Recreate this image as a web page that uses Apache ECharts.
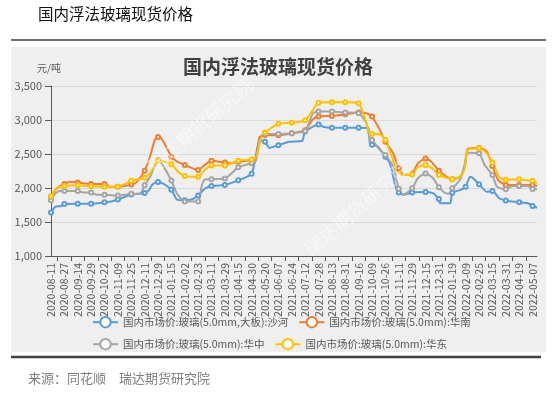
<!DOCTYPE html>
<html>
<head>
<meta charset="utf-8">
<script src="https://cdn.jsdelivr.net/npm/echarts@6/dist/echarts.min.js"></script>
<style>
html,body{margin:0;padding:0;background:#fff;}
#chart{width:558px;height:394px;}
</style>
</head>
<body>
<div id="chart"></div>
<script>
// Tick labels (every 12th trading day)
const dateLabels = ['2020-08-11','2020-08-27','2020-09-14','2020-09-29','2020-10-22','2020-11-09','2020-11-25','2020-12-11','2020-12-29',
  '2021-01-15','2021-02-02','2021-02-23','2021-03-11','2021-03-29','2021-04-15','2021-04-30','2021-05-20','2021-06-07','2021-06-24',
  '2021-07-12','2021-07-28','2021-08-13','2021-08-31','2021-09-16','2021-10-09','2021-10-26','2021-11-11','2021-11-29','2021-12-15',
  '2021-12-31','2022-01-19','2022-02-09','2022-02-25','2022-03-15','2022-03-31','2022-04-19','2022-05-07'];
const dayCount = 437;            // trading days on the axis
const labelStep = 12;            // trading days between labels

const seriesNames = ['国内市场价:玻璃(5.0mm,大板):沙河','国内市场价:玻璃(5.0mm):华南','国内市场价:玻璃(5.0mm):华中','国内市场价:玻璃(5.0mm):华东'];

// [trading-day index, 元/吨]
const shahe = [[0,1640],[2,1690],[4,1725],[9,1735],[12,1765],[24,1770],[36,1770],[48,1790],[54,1800],[60,1830],[66,1870],[72,1905],[84,1925],[88,1970],[91,2050],[96,2090],[101,2060],[108,1975],[113,1830],[120,1820],[126,1830],[132,1890],[138,1990],[144,2030],[156,2045],[162,2075],[168,2115],[174,2150],[180,2210],[183,2400],[187,2700],[192,2680],[196,2590],[204,2630],[214,2680],[225,2690],[226,2710],[228,2830],[240,2935],[244,2900],[252,2885],[264,2885],[276,2885],[285,2880],[286,2660],[288,2635],[293,2610],[300,2460],[304,2360],[310,1970],[312,1935],[316,1900],[324,1935],[336,1940],[343,1920],[346,1875],[348,1840],[349,1775],[358,1775],[360,1930],[367,1970],[372,2020],[376,2165],[379,2140],[384,2055],[391,1945],[396,1955],[402,1850],[408,1815],[414,1800],[420,1790],[428,1775],[432,1735],[436,1710]];
const huanan = [[0,1870],[4,1970],[8,2030],[12,2060],[17,2093],[24,2080],[36,2060],[48,2060],[53,2020],[60,2020],[72,2050],[77,2090],[84,2255],[89,2470],[93,2700],[96,2750],[99,2730],[104,2585],[108,2460],[113,2390],[120,2340],[132,2265],[138,2340],[144,2400],[156,2375],[162,2365],[168,2385],[180,2410],[184,2435],[187,2750],[192,2780],[204,2775],[216,2805],[228,2850],[235,3010],[240,3050],[252,3060],[264,3085],[276,3110],[283,3100],[288,3050],[295,2855],[300,2680],[307,2510],[312,2290],[317,2190],[324,2215],[329,2360],[336,2435],[341,2390],[348,2255],[355,2165],[360,2130],[367,2165],[371,2300],[374,2580],[384,2590],[391,2535],[396,2325],[401,2120],[408,2045],[420,2045],[432,2045],[436,2030]];
const huazhong = [[0,1815],[4,1920],[8,1955],[12,1955],[24,1955],[29,1935],[36,1935],[41,1900],[48,1900],[60,1890],[72,1915],[80,1920],[84,2040],[89,2170],[93,2330],[96,2410],[101,2315],[108,2110],[113,1920],[120,1800],[132,1800],[135,2020],[138,2125],[144,2130],[156,2140],[162,2215],[168,2305],[180,2365],[184,2410],[187,2705],[192,2795],[204,2795],[216,2805],[228,2840],[235,3100],[240,3125],[252,3125],[264,3110],[276,3100],[283,2950],[286,2715],[288,2705],[295,2560],[300,2485],[307,2315],[310,2120],[312,1990],[316,1900],[324,1995],[329,2140],[336,2215],[343,2140],[348,2010],[355,1920],[358,1920],[360,1995],[367,2120],[371,2340],[374,2520],[384,2510],[389,2340],[396,2190],[400,2020],[408,1980],[414,2030],[420,2030],[428,2030],[432,1985],[436,1980]];
const huadong = [[0,1880],[5,1995],[12,2030],[24,2040],[36,2025],[48,2020],[60,2020],[72,2105],[84,2150],[89,2220],[93,2330],[96,2400],[102,2385],[108,2350],[114,2240],[120,2175],[132,2165],[138,2265],[144,2330],[156,2330],[168,2400],[180,2420],[184,2450],[188,2700],[192,2815],[204,2945],[216,2960],[228,2995],[235,3150],[240,3255],[252,3260],[264,3260],[276,3245],[280,3100],[286,2805],[288,2795],[295,2790],[300,2705],[306,2450],[310,2265],[313,2210],[317,2190],[324,2200],[329,2305],[336,2340],[343,2275],[348,2190],[355,2150],[360,2130],[367,2165],[371,2275],[374,2560],[384,2585],[391,2510],[396,2375],[402,2165],[408,2120],[420,2130],[428,2110],[432,2105],[436,2070]];

const seriesData = [shahe, huanan, huazhong, huadong];
const colors = ['#5b9bd5','#ed7d31','#a5a5a5','#ffc000'];

const categories = [];
for (let i = 0; i < dayCount; i++) {
  categories.push(i % labelStep === 0 ? dateLabels[i / labelStep] : '');
}

const FONT = '"Noto Sans CJK SC", "Noto Sans", sans-serif';
const chart = echarts.init(document.getElementById('chart'), null, {renderer: 'canvas'});

const legendCommon = {
  orient: 'horizontal', left: 92, itemWidth: 25, itemHeight: 13, itemGap: 10,
  padding: 0, textStyle: {color: '#595959', fontSize: 10.5, fontFamily: FONT}
};

chart.setOption({
  animation: false,
  backgroundColor: '#ffffff',
  textStyle: {fontFamily: FONT},
  color: colors,
  grid: {left: 51, right: 21, top: 86, bottom: 138, containLabel: false},
  legend: [
    Object.assign({}, legendCommon, {top: 316, data: [seriesNames[0], seriesNames[1]]}),
    Object.assign({}, legendCommon, {top: 338, data: [seriesNames[2], seriesNames[3]]})
  ],
  xAxis: {
    type: 'category',
    data: categories,
    boundaryGap: false,
    axisLine: {lineStyle: {color: '#595959', width: 1}},
    axisTick: {show: true, length: 5, interval: function (i) { return i % labelStep === labelStep / 2; }, lineStyle: {color: '#595959'}},
    axisLabel: {interval: labelStep - 1, rotate: 90, margin: 7, color: '#595959', fontSize: 10.5, fontFamily: FONT},
    splitLine: {show: false}
  },
  yAxis: {
    type: 'value',
    min: 1000, max: 3500, interval: 500,
    axisLine: {show: true, lineStyle: {color: '#595959', width: 1}},
    axisTick: {show: true, length: 6, lineStyle: {color: '#595959'}},
    axisLabel: {margin: 9, color: '#595959', fontSize: 11, fontFamily: FONT,
      formatter: function (v) { return v.toLocaleString('en-US'); }},
    splitLine: {lineStyle: {color: '#d9d9d9', width: 1}}
  },
  series: seriesNames.map(function (name, i) {
    return {
      name: name, type: 'line', data: seriesData[i],
      symbol: 'emptyCircle', symbolSize: 4, showAllSymbol: 'auto',
      smooth: 0.2,
      lineStyle: {width: 2, color: colors[i]},
      itemStyle: {color: colors[i], borderWidth: 1},
      emphasis: {disabled: true}
    };
  }),
  graphic: [
    {type: 'rect', z: -10, shape: {x: 11, y: 47, width: 535, height: 305}, style: {fill: '#efefef'}},
    {type: 'line', z: -9, shape: {x1: 11, y1: 40, x2: 546, y2: 40}, style: {stroke: '#404040', lineWidth: 1.5}},
    {type: 'line', z: -9, shape: {x1: 11, y1: 357, x2: 541, y2: 357}, style: {stroke: '#404040', lineWidth: 2.5}},
    {type: 'text', x: 38, y: 14, style: {text: '国内浮法玻璃现货价格', fill: '#111', font: '15.5px ' + FONT, textVerticalAlign: 'middle'}},
    {type: 'text', x: 278, y: 67, style: {text: '国内浮法玻璃现货价格', fill: '#404040', font: 'bold 19px ' + FONT, textAlign: 'center', textVerticalAlign: 'middle'}},
    {type: 'text', x: 37, y: 68, style: {text: '元/吨', fill: '#595959', font: '10px ' + FONT, textVerticalAlign: 'middle'}},
    {type: 'text', x: 28, y: 378, style: {text: '来源：同花顺　瑞达期货研究院', fill: '#7f7f7f', font: '13px ' + FONT, textVerticalAlign: 'middle'}},
    {type: 'text', z: 100, x: 200, y: 125, rotation: 0.72, style: {text: '瑞达期货研究院', fill: 'rgba(255,255,255,0.5)', font: '19px ' + FONT, textAlign: 'center', textVerticalAlign: 'middle'}},
    {type: 'text', z: 100, x: 357, y: 208, rotation: 0.72, style: {text: '瑞达期货研究院', fill: 'rgba(255,255,255,0.5)', font: '19px ' + FONT, textAlign: 'center', textVerticalAlign: 'middle'}}
  ]
});
</script>
</body>
</html>
